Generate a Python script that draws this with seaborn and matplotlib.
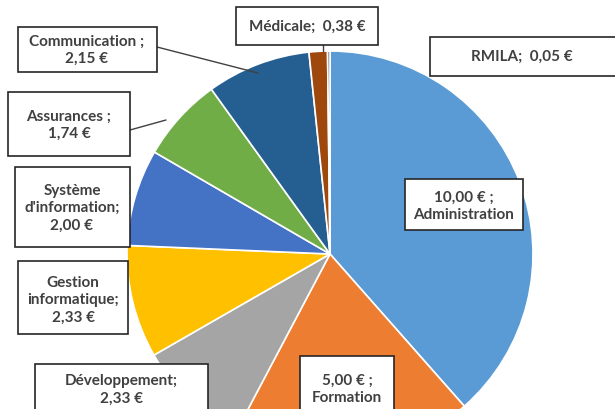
import numpy as np
import matplotlib
matplotlib.use("Agg")
import matplotlib.pyplot as plt
import seaborn as sns
from matplotlib.patches import Rectangle
from matplotlib.lines import Line2D

sns.set_style("white")
plt.rcParams["font.family"] = ["Lato", "DejaVu Sans"]

categories = ["Administration", "Formation", "Développement", "Gestion informatique",
              "Système d'information", "Assurances", "Communication", "Médicale", "RMILA"]
values = [10.00, 5.00, 2.33, 2.33, 2.00, 1.74, 2.15, 0.38, 0.05]
colors = ["#5B9BD5", "#ED7D31", "#A5A5A5", "#FFC000", "#4472C4",
          "#70AD47", "#255E91", "#9E480E", "#636363"]

label_texts = [
    "10,00 € ;\nAdministration",
    "5,00 € ;\nFormation",
    "Développement;\n2,33 €",
    "Gestion\ninformatique;\n2,33 €",
    "Système\nd'information;\n2,00 €",
    "Assurances ;\n1,74 €",
    "Communication ;\n2,15 €",
    "Médicale;  0,38 €",
    "RMILA;  0,05 €",
]

W, H = 615, 410
# pie centre and radius in pixels
cx, cy, r = 330, 255, 203

# label boxes (x0, y0, x1, y1) in pixels, text centre
boxes = [
    (405, 180, 523, 231, 464, 206),
    (300, 357, 394, 415, 347, 389),
    (35, 365, 208, 415, 121, 390),
    (18, 262, 128, 335, 73, 300),
    (15, 168, 130, 248, 72, 208),
    (8, 93, 130, 157, 69, 125),
    (18, 28, 157, 73, 87, 50),
    (236, 8, 378, 46, 307, 27),
    (430, 38, 630, 77, 522, 57),
]
leaders = [
    ((157, 48), (258, 74)),
    ((130, 131), (166, 121)),
    ((323, 46), (323, 52)),
]

fig = plt.figure(figsize=(6.15, 4.1), dpi=100)
ax = fig.add_axes([0, 0, 1, 1])
ax.pie(values, colors=colors, startangle=90, counterclock=False,
       wedgeprops=dict(edgecolor="white", linewidth=1.2))
ax.set_xlim(-cx / r, (W - cx) / r)
ax.set_ylim(-(H - cy) / r, cy / r)
ax.set_aspect("auto")
ax.axis("off")


def fx(px):
    return px / W


def fy(py):
    return 1 - py / H


for (p0, p1) in leaders:
    fig.add_artist(Line2D([fx(p0[0]), fx(p1[0])], [fy(p0[1]), fy(p1[1])],
                          transform=fig.transFigure, color="#404040", lw=1))

for txt, (x0, y0, x1, y1, tx, ty) in zip(label_texts, boxes):
    fig.add_artist(Rectangle((fx(x0), fy(y1)), fx(x1) - fx(x0), fy(y0) - fy(y1),
                             transform=fig.transFigure, facecolor="white",
                             edgecolor="#262626", lw=1.2, zorder=3))
    fig.text(fx(tx), fy(ty), txt, ha="center", va="center", fontsize=11,
             fontweight="bold", color="#404040", linespacing=1.3, zorder=4)

fig.savefig("out.png", dpi=100)
